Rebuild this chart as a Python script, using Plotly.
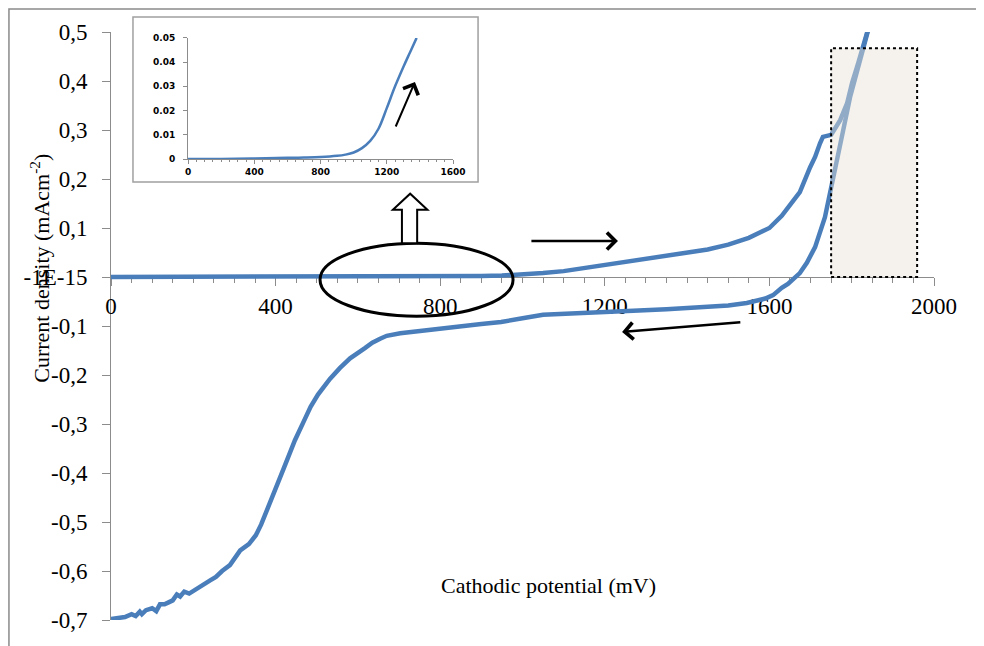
import plotly.graph_objects as go

# ---------------- data ----------------
fwd_mv = [0, 100, 200, 300, 400, 500, 600, 700, 800, 900, 950, 1000, 1050, 1100, 1150,
          1200, 1250, 1300, 1350, 1400, 1450, 1500, 1550, 1600, 1630, 1660, 1674, 1699,
          1711, 1723, 1730, 1750, 1772, 1789, 1801, 1816, 1840, 1850]
fwd_j = [0, 0, 0, 0, 0, 0, 0.0005, 0.001, 0.001, 0.002, 0.003, 0.005, 0.008, 0.012, 0.018,
         0.025, 0.031, 0.037, 0.042, 0.048, 0.056, 0.066, 0.080, 0.100, 0.125, 0.158, 0.173, 0.224,
         0.245, 0.273, 0.286, 0.290, 0.320, 0.355, 0.396, 0.437, 0.504, 0.535]

rev_mv = [1850, 1840, 1816, 1796, 1776, 1755, 1735, 1711, 1691, 1674, 1657, 1645, 1630, 1609,
          1590, 1545, 1500, 1431, 1350, 1269, 1200, 1147, 1094, 1050, 1000, 948, 900, 850,
          800, 751, 703, 670, 654, 635, 617, 600, 581, 556, 532, 503, 485, 471, 447, 420,
          391, 377, 365, 352, 335, 314, 300, 289, 270, 255, 241, 225, 207, 190, 178, 168,
          160, 150, 140, 130, 119, 110, 100, 85, 75, 70, 60, 50, 34, 15, 0]
rev_j = [0.535, 0.504, 0.437, 0.367, 0.286, 0.204, 0.122, 0.061, 0.029, 0.008, -0.006, -0.014,
         -0.022, -0.037, -0.044, -0.053, -0.058, -0.062, -0.066, -0.069, -0.071, -0.072, -0.074,
         -0.077, -0.084, -0.092, -0.096, -0.100, -0.104, -0.110, -0.115, -0.120, -0.126, -0.134,
         -0.145, -0.154, -0.166, -0.186, -0.208, -0.240, -0.265, -0.290, -0.333, -0.390,
         -0.450, -0.484, -0.505, -0.527, -0.545, -0.558, -0.575, -0.588, -0.600, -0.612,
         -0.619, -0.628, -0.638, -0.646, -0.642, -0.652, -0.648, -0.660, -0.664, -0.668,
         -0.668, -0.682, -0.676, -0.680, -0.688, -0.683, -0.692, -0.688, -0.694, -0.696, -0.698]

inset_mv = [0, 200, 400, 600, 700, 800, 900, 950, 1000, 1050, 1100, 1150, 1200, 1250, 1300,
            1340, 1380]
inset_j = [0, 0, 0.0002, 0.0005, 0.0006, 0.0008, 0.0013, 0.0018, 0.0027, 0.0045, 0.0075,
           0.0125, 0.021, 0.030, 0.038, 0.044, 0.050]

y_tickvals = [0.5, 0.4, 0.3, 0.2, 0.1, 0, -0.1, -0.2, -0.3, -0.4, -0.5, -0.6, -0.7]
y_ticktext = ["0,5", "0,4", "0,3", "0,2", "0,1", "-1E-15", "-0,1", "-0,2", "-0,3",
              "-0,4", "-0,5", "-0,6", "-0,7"]
x_tickvals = [0, 400, 800, 1200, 1600, 2000]
inset_xticks = [0, 400, 800, 1200, 1600]
inset_yticks = [0, 0.01, 0.02, 0.03, 0.04, 0.05]
inset_yticktext = ["0", "0.01", "0.02", "0.03", "0.04", "0.05"]

# ---------------- figure ----------------
BLUE = "#4a7ebb"
AXC = "#8c8c8c"
SERIF = "Liberation Serif, Times New Roman, serif"

fig = go.Figure()
fig.add_trace(go.Scatter(x=fwd_mv, y=fwd_j, mode="lines",
                         line=dict(color=BLUE, width=4.5), showlegend=False))
fig.add_trace(go.Scatter(x=rev_mv, y=rev_j, mode="lines",
                         line=dict(color=BLUE, width=4.5), showlegend=False))
fig.add_trace(go.Scatter(x=inset_mv, y=inset_j, mode="lines", xaxis="x2", yaxis="y2",
                         line=dict(color=BLUE, width=2.5, shape="spline"), showlegend=False))

fig.update_layout(
    width=984, height=646,
    margin=dict(l=103, r=58, t=24, b=34, autoexpand=False),
    paper_bgcolor="white", plot_bgcolor="rgba(0,0,0,0)",
    xaxis=dict(range=[0, 2000], anchor="free", position=0.7 / 1.2, automargin=False,
               showline=True, linecolor=AXC, linewidth=1, showgrid=False, zeroline=False,
               tickvals=x_tickvals, ticks="outside", ticklen=8, tickcolor=AXC,
               minor=dict(dtick=50, ticks="outside", ticklen=5, tickcolor=AXC),
               tickfont=dict(family=SERIF, size=23, color="black"),
               layer="below traces"),
    yaxis=dict(range=[-0.7, 0.5], domain=[0, 1], anchor="x", automargin=False,
               showline=True, linecolor=AXC, linewidth=1, showgrid=False, zeroline=False,
               tickvals=y_tickvals, ticktext=y_ticktext, ticks="outside", ticklen=8,
               tickcolor=AXC, ticklabelstandoff=10,
               tickfont=dict(family=SERIF, size=23, color="black"),
               layer="below traces"),
    xaxis2=dict(domain=[0.0936, 0.4156], anchor="y2", range=[0, 1600], automargin=False,
                showline=True, linecolor=AXC, linewidth=1, showgrid=False, zeroline=False,
                tickvals=inset_xticks, ticks="outside", ticklen=4, tickcolor=AXC,
                minor=dict(dtick=50, ticks="outside", ticklen=2, tickcolor=AXC),
                tickfont=dict(family="DejaVu Sans", size=9, color="black", weight="bold")),
    yaxis2=dict(domain=[0.784, 0.990], anchor="x2", range=[0, 0.05], automargin=False,
                showline=True, linecolor=AXC, linewidth=1, showgrid=False, zeroline=False,
                tickvals=inset_yticks, ticktext=inset_yticktext,
                ticks="outside", ticklen=4, tickcolor=AXC, ticklabelstandoff=6,
                tickfont=dict(family="DejaVu Sans", size=9, color="black", weight="bold")),
)

shapes = [
    # outer chart frame (cropped)
    dict(type="rect", xref="paper", yref="paper", x0=-0.124, x1=1.2, y0=-0.2, y1=1.039,
         line=dict(color="#8a8a8a", width=1.5), fillcolor="rgba(0,0,0,0)", layer="below"),
    # inset frame
    dict(type="rect", xref="paper", yref="paper", x0=0.0267, x1=0.446, y0=0.745, y1=1.0255,
         line=dict(color="#a0a0a0", width=1.5), fillcolor="white", layer="below"),
    # ellipse
    dict(type="circle", xref="x", yref="y", x0=508, x1=977, y0=-0.080, y1=0.069,
         line=dict(color="black", width=3), layer="above"),
    # hollow up arrow
    dict(type="path", xref="x", yref="y",
         path="M 707,0.069 L 707,0.137 L 685,0.137 L 727,0.170 L 769,0.137 L 744,0.137 L 744,0.069 Z",
         line=dict(color="black", width=2), fillcolor="white", layer="above"),
    # shaded dotted box
    dict(type="rect", xref="x", yref="y", x0=1750, x1=1959, y0=0.0, y1=0.467,
         line=dict(color="black", width=2, dash="dot"),
         fillcolor="rgba(232,226,214,0.45)", layer="above"),
]
fig.update_layout(shapes=shapes)

annotations = [
    dict(text="Current density (mAcm<sup>-2</sup>)", xref="paper", yref="paper",
         x=-0.0863, y=0.599, xanchor="center", yanchor="middle", textangle=-90,
         showarrow=False, font=dict(family=SERIF, size=22, color="black")),
    dict(text="Cathodic potential (mV)", xref="paper", yref="paper",
         x=0.532, y=0.0595, xanchor="center", yanchor="middle", showarrow=False,
         font=dict(family=SERIF, size=22, color="black")),
    # forward arrow
    dict(x=1232, y=0.0735, ax=1018, ay=0.0735, xref="x", yref="y", axref="x", ayref="y",
         text="", showarrow=True, arrowhead=4, arrowsize=1.3, arrowwidth=2.5, arrowcolor="black"),
    # reverse arrow
    dict(x=1242, y=-0.112, ax=1533, ay=-0.092, xref="x", yref="y", axref="x", ayref="y",
         text="", showarrow=True, arrowhead=4, arrowsize=1.3, arrowwidth=2.5, arrowcolor="black"),
    # inset arrow
    dict(x=1370, y=0.0318, ax=1250, ay=0.0128, xref="x2", yref="y2", axref="x2", ayref="y2",
         text="", showarrow=True, arrowhead=4, arrowsize=1.6, arrowwidth=2, arrowcolor="black"),
]
fig.update_layout(annotations=annotations)

fig.write_html("out.html")
